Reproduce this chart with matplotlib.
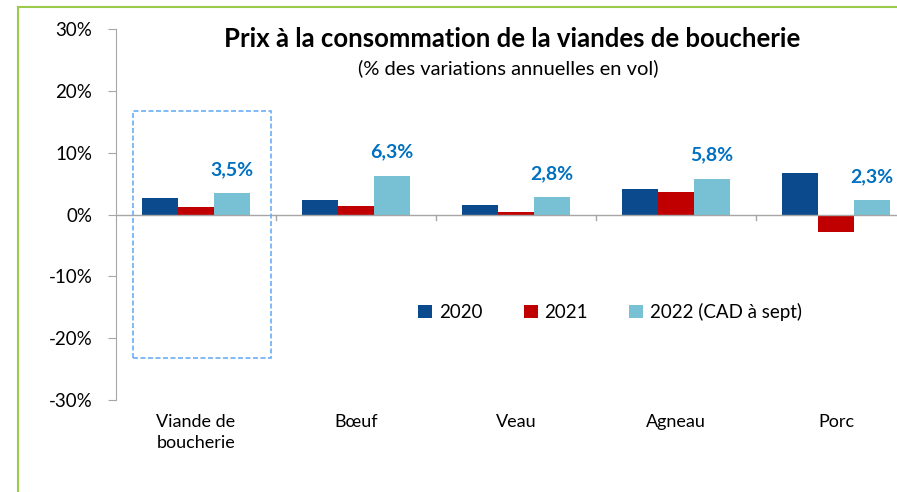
import matplotlib.pyplot as plt
from matplotlib.patches import Rectangle
import numpy as np

# Données
categories = ['Viande de\nboucherie', 'Bœuf', 'Veau', 'Agneau', 'Porc']
v2020 = [2.7, 2.3, 1.6, 4.2, 6.7]
v2021 = [1.2, 1.4, 0.4, 3.7, -2.8]
v2022 = [3.5, 6.3, 2.8, 5.8, 2.3]
series_names = ['2020', '2021', '2022 (CAD à sept)']
yticks = [-30, -20, -10, 0, 10, 20, 30]

c2020 = '#0B4A8C'
c2021 = '#C00000'
c2022 = '#78C0D4'
c_lab = '#0070C0'

plt.rcParams['font.family'] = ['Lato', 'DejaVu Sans']

fig = plt.figure(figsize=(8.97, 4.92), dpi=100)
ax = fig.add_axes([116/897, 1-400/492, 800/897, 371/492])

x = np.arange(len(categories))
w = 0.223
ax.bar(x - w, v2020, w, color=c2020, label=series_names[0], zorder=3)
ax.bar(x, v2021, w, color=c2021, label=series_names[1], zorder=3)
ax.bar(x + w, v2022, w, color=c2022, label=series_names[2], zorder=3)

# étiquettes 2022
for xi, v in zip(x, v2022):
    ax.annotate(('%.1f%%' % v).replace('.', ','), (xi + w, v), xytext=(0, 13),
                textcoords='offset points', ha='center', va='baseline',
                color=c_lab, fontsize=14, fontweight='bold')

ax.set_xlim(-0.5, len(categories) - 0.5)
ax.set_ylim(-30, 30)
ax.set_yticks(yticks)
ax.set_yticklabels(['%d%%' % t for t in yticks], fontsize=13.5)
ax.tick_params(axis='y', length=6, color='#A6A6A6', pad=11)

# axe x à 0 avec graduations entre catégories
for s in ['top', 'right', 'bottom']:
    ax.spines[s].set_visible(False)
ax.spines['left'].set_color('#A6A6A6')
ax.axhline(0, color='#A6A6A6', lw=1, zorder=4)
ax.set_xticks(x)
ax.set_xticklabels([])
ax.tick_params(axis='x', length=0)
for b in np.arange(1, len(categories)) - 0.5:
    ax.plot([b, b], [0, -0.9], color='#A6A6A6', lw=1, clip_on=False)
for xi, c in zip(x, categories):
    ax.text(xi, -32.3, c, ha='center', va='top', fontsize=13,
            multialignment='center', linespacing=1.4)

# cadre pointillé autour de la première catégorie
ax.add_patch(Rectangle((-0.394, -23.2), 0.863, 39.9, fill=False,
                       ec='#6AAEF5', lw=1.2, ls=(0, (3, 1.5)), zorder=5,
                       clip_on=False))

ax.legend(loc='center', bbox_to_anchor=(610/897, 1-312/492),
          bbox_transform=fig.transFigure, ncol=3, frameon=False,
          fontsize=13.5, handlelength=0.75, handleheight=0.75,
          handletextpad=0.35, columnspacing=2.2)

fig.text(512/897, 1-39/492, 'Prix à la consommation de la viandes de boucherie',
         ha='center', va='center', fontsize=18.5, fontweight='bold')
fig.text(508/897, 1-68/492, '(% des variations annuelles en vol)',
         ha='center', va='center', fontsize=14.5)

# bordure verte
fig.add_artist(plt.Line2D([18/897, 18/897], [0, 1-7/492], color='#9BCB4A',
                          lw=1.5, transform=fig.transFigure))
fig.add_artist(plt.Line2D([18/897, 1.01], [1-7/492, 1-7/492], color='#9BCB4A',
                          lw=1.5, transform=fig.transFigure))

fig.savefig('out.png', dpi=100)
